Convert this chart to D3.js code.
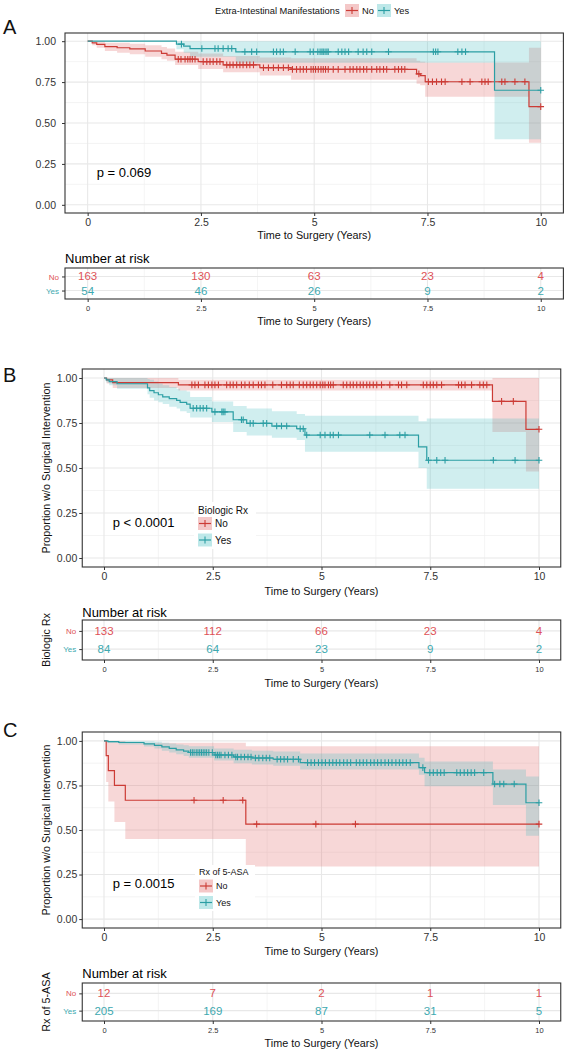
<!DOCTYPE html>
<html><head><meta charset="utf-8">
<script src="https://cdn.jsdelivr.net/npm/d3@7"></script>
<style>body{margin:0;background:#fff}svg{display:block}text{font-family:"Liberation Sans",Arial,sans-serif}</style>
</head><body>
<svg id="c" width="564" height="1050"></svg>
<script>
// ---------- shared ----------
const xTicks = [0, 2.5, 5, 7.5, 10];
const xTickLabels = ["0", "2.5", "5", "7.5", "10"];
const yTicks = [0, 0.25, 0.5, 0.75, 1];
const yTickLabels = ["0.00", "0.25", "0.50", "0.75", "1.00"];
const riskTimes = [0, 2.5, 5, 7.5, 10];
const groups = ["No", "Yes"];

// ---------- Panel A : Extra-Intestinal Manifestations ----------
const aNoTime  = [0, 0.1, 0.2, 0.38, 0.65, 0.93, 1.27, 1.63, 1.75, 1.93, 2.44, 2.99, 3.80, 4.49, 7.26, 7.34, 7.45, 9.74];
const aNoSurv  = [1, 0.99, 0.98, 0.967, 0.96, 0.953, 0.94, 0.925, 0.915, 0.89, 0.875, 0.855, 0.838, 0.828, 0.80, 0.79, 0.752, 0.60];
const aNoLower = [1, 0.975, 0.96, 0.94, 0.93, 0.92, 0.905, 0.89, 0.88, 0.855, 0.83, 0.81, 0.79, 0.765, 0.74, 0.73, 0.66, 0.38];
const aNoUpper = [1, 1, 1, 0.99, 0.99, 0.985, 0.975, 0.965, 0.955, 0.935, 0.925, 0.91, 0.90, 0.895, 0.88, 0.875, 0.87, 0.96];
const aNoCensor = [2.0, 2.06, 2.15, 2.21, 2.26, 2.31, 2.37, 2.55, 2.63, 2.70, 2.77, 2.85, 2.92, 3.07, 3.14, 3.21, 3.29, 3.36, 3.43, 3.51, 3.58, 3.66, 3.88, 3.99, 4.10, 4.21, 4.32, 4.43, 4.52, 4.61, 4.69, 4.76, 4.83, 4.93, 4.98, 5.03, 5.09, 5.15, 5.2, 5.25, 5.31, 5.42, 5.53, 5.68, 5.79, 5.86, 5.94, 6.01, 6.09, 6.16, 6.27, 6.38, 6.45, 6.53, 6.6, 6.78, 6.86, 6.93, 7.0, 7.31, 7.52, 7.61, 7.70, 7.81, 7.89, 8.26, 8.44, 8.70, 8.77, 8.84, 9.14, 9.21, 9.43, 9.65, 10];
const aYesTime  = [0, 1.96, 2.12, 2.26, 3.27, 8.98];
const aYesSurv  = [1, 0.982, 0.97, 0.955, 0.935, 0.70];
const aYesLower = [1, 0.95, 0.93, 0.905, 0.868, 0.40];
const aYesUpper = [1, 1, 1, 1, 1, 1];
const aYesCensor = [2.07, 2.52, 2.81, 2.88, 2.99, 3.10, 3.18, 3.47, 3.62, 3.73, 4.10, 4.17, 4.25, 4.32, 4.58, 4.91, 4.98, 5.08, 5.13, 5.17, 5.2, 5.24, 5.28, 5.31, 5.53, 5.61, 5.68, 5.76, 5.97, 6.08, 6.16, 6.27, 6.64, 7.63, 7.68, 7.73, 8.17, 8.26, 8.34, 10];
const aRiskNo  = [163, 130, 63, 23, 4];
const aRiskYes = [54, 46, 26, 9, 2];

// ---------- Panel B : Biologic Rx ----------
const bNoTime  = [0, 0.06, 0.2, 1.71, 8.93, 9.7];
const bNoSurv  = [1, 0.99, 0.974, 0.962, 0.87, 0.715];
const bNoLower = [1, 0.97, 0.945, 0.93, 0.70, 0.48];
const bNoUpper = [1, 1, 1, 0.99, 1, 1];
const bNoCensor = [2.02, 2.09, 2.17, 2.32, 2.40, 2.48, 2.55, 2.63, 2.82, 2.90, 2.97, 3.05, 3.16, 3.24, 3.34, 3.43, 3.55, 3.62, 3.70, 3.88, 4.08, 4.2, 4.28, 4.35, 4.49, 4.58, 4.66, 4.74, 4.81, 4.89, 4.97, 5.03, 5.08, 5.16, 5.21, 5.27, 5.50, 5.58, 5.66, 5.73, 5.81, 5.89, 5.96, 6.04, 6.11, 6.19, 6.27, 6.38, 6.57, 6.77, 6.84, 6.96, 7.34, 7.42, 7.50, 7.57, 7.65, 7.76, 8.15, 8.22, 8.30, 8.45, 8.64, 8.72, 8.80, 9.14, 9.41, 10];
const bYesTime  = [0, 0.05, 0.12, 0.3, 1.0, 1.05, 1.15, 1.25, 1.35, 1.5, 1.67, 1.75, 1.9, 1.98, 2.48, 2.97, 3.28, 3.86, 4.43, 4.62, 7.23, 7.42];
const bYesSurv  = [1, 0.99, 0.98, 0.968, 0.945, 0.93, 0.918, 0.907, 0.895, 0.885, 0.876, 0.865, 0.855, 0.832, 0.812, 0.768, 0.748, 0.733, 0.718, 0.683, 0.617, 0.543];
const bYesLower = [1, 0.975, 0.96, 0.94, 0.91, 0.89, 0.875, 0.865, 0.855, 0.84, 0.83, 0.815, 0.805, 0.78, 0.756, 0.70, 0.68, 0.668, 0.655, 0.59, 0.50, 0.385];
const bYesUpper = [1, 1, 1, 1, 0.995, 0.99, 0.98, 0.97, 0.96, 0.95, 0.94, 0.93, 0.925, 0.895, 0.87, 0.845, 0.83, 0.815, 0.80, 0.79, 0.76, 0.775];
const bYesCensor = [2.05, 2.13, 2.21, 2.28, 2.36, 2.55, 2.71, 2.74, 2.78, 3.16, 3.2, 3.36, 3.43, 3.66, 3.74, 3.97, 4.08, 4.2, 4.51, 4.58, 4.66, 4.97, 5.08, 5.20, 5.27, 5.39, 6.11, 6.46, 6.80, 6.92, 7.46, 7.65, 7.84, 8.95, 9.45, 10];
const bRiskNo  = [133, 112, 66, 23, 4];
const bRiskYes = [84, 64, 23, 9, 2];

// ---------- Panel C : Rx of 5-ASA ----------
const cNoTime  = [0, 0.05, 0.1, 0.24, 0.49, 3.26];
const cNoSurv  = [1, 0.917, 0.833, 0.75, 0.667, 0.533];
const cNoLower = [1, 0.77, 0.66, 0.545, 0.45, 0.295];
const cNoUpper = [1, 1, 1, 1, 0.99, 0.97];
const cNoCensor = [2.07, 2.74, 3.19, 3.51, 4.87, 5.78, 10];
const cYesTime  = [0, 0.09, 0.34, 0.92, 1.16, 1.33, 1.5, 1.66, 1.83, 1.95, 2.53, 2.98, 3.4, 3.89, 4.51, 7.24, 7.37, 8.94, 9.7];
const cYesSurv  = [1, 0.996, 0.991, 0.983, 0.975, 0.966, 0.958, 0.95, 0.943, 0.935, 0.921, 0.91, 0.904, 0.897, 0.878, 0.85, 0.822, 0.758, 0.653];
const cYesLower = [1, 0.988, 0.98, 0.968, 0.957, 0.945, 0.935, 0.925, 0.915, 0.905, 0.89, 0.875, 0.868, 0.86, 0.84, 0.81, 0.745, 0.64, 0.468];
const cYesUpper = [1, 1, 1, 0.998, 0.995, 0.99, 0.985, 0.98, 0.975, 0.97, 0.958, 0.95, 0.945, 0.94, 0.93, 0.905, 0.885, 0.84, 0.80];
const cYesCensor = [1.99, 2.03, 2.07, 2.12, 2.16, 2.20, 2.24, 2.28, 2.32, 2.36, 2.41, 2.49, 2.57, 2.61, 2.65, 2.69, 2.78, 2.86, 2.94, 3.03, 3.07, 3.15, 3.23, 3.31, 3.38, 3.48, 3.56, 3.65, 3.73, 3.81, 3.98, 4.06, 4.14, 4.22, 4.35, 4.47, 4.68, 4.76, 4.84, 4.93, 5.01, 5.09, 5.18, 5.26, 5.34, 5.42, 5.51, 5.59, 5.67, 5.80, 5.88, 5.96, 6.04, 6.13, 6.21, 6.29, 6.37, 6.46, 6.54, 6.62, 6.71, 6.79, 6.87, 6.95, 7.04, 7.33, 7.49, 7.57, 7.66, 7.74, 7.82, 8.11, 8.19, 8.28, 8.36, 8.44, 8.52, 8.73, 8.98, 9.10, 9.19, 9.43, 10];
const cRiskNo  = [12, 7, 2, 1, 1];
const cRiskYes = [205, 169, 87, 31, 5];

// ---------- styling ----------
const RED = "#cc3b35", TEAL = "#2b9ea4";
const RED_TXT = "#de5257", TEAL_TXT = "#3da9af";
const RED_FILL = "#e06060", TEAL_FILL = "#45bcc0", FILL_OP = 0.25;
const GRID = "#e8e8e8", GRID_MIN = "#efefef", BORDER = "#333";
const FONT = '"Liberation Sans",Arial,sans-serif';

const svg = d3.select("#c");
svg.append("rect").attr("width", 564).attr("height", 1050).attr("fill", "#fff");

function stepPts(time, surv, lower, upper, end) {
  const p = time.map((t, i) => ({t, s: surv[i], lo: lower[i], hi: upper[i]}));
  const last = p[p.length - 1];
  p.push({t: end, s: last.s, lo: last.lo, hi: last.hi});
  return p;
}

function cross(g, x, y, color) {
  g.append("path").attr("d", `M${x - 3.3},${y}h6.6M${x},${y - 3.3}v6.6`)
    .attr("stroke", color).attr("stroke-width", 1.1).attr("fill", "none");
}

function drawPanel(o) {
  const x = d3.scaleLinear().domain([-0.5, 10.5]).range([o.left, o.right]);
  const y = d3.scaleLinear().domain([-0.05, 1.05]).range([o.bottom, o.top]);
  const g = svg.append("g");

  // grid
  const xMinor = xTicks.slice(1).map((v, i) => (v + xTicks[i]) / 2);
  const yMinor = yTicks.slice(1).map((v, i) => (v + yTicks[i]) / 2);
  xMinor.forEach(v => g.append("line").attr("x1", x(v)).attr("x2", x(v)).attr("y1", o.top).attr("y2", o.bottom).attr("stroke", GRID_MIN).attr("stroke-width", 0.7));
  yMinor.forEach(v => g.append("line").attr("x1", o.left).attr("x2", o.right).attr("y1", y(v)).attr("y2", y(v)).attr("stroke", GRID_MIN).attr("stroke-width", 0.7));
  xTicks.forEach(v => g.append("line").attr("x1", x(v)).attr("x2", x(v)).attr("y1", o.top).attr("y2", o.bottom).attr("stroke", GRID).attr("stroke-width", 1.1));
  yTicks.forEach(v => g.append("line").attr("x1", o.left).attr("x2", o.right).attr("y1", y(v)).attr("y2", y(v)).attr("stroke", GRID).attr("stroke-width", 1.1));

  const curves = o.curves.map(c => ({...c, pts: stepPts(c.time, c.surv, c.lower, c.upper, d3.max(c.censor))}));
  const area = d3.area().curve(d3.curveStepAfter).x(d => x(d.t)).y0(d => y(d.lo)).y1(d => y(d.hi));
  const line = d3.line().curve(d3.curveStepAfter).x(d => x(d.t)).y(d => y(d.s));
  curves.forEach(c => g.append("path").datum(c.pts).attr("d", area).attr("fill", c.fill).attr("fill-opacity", FILL_OP));
  curves.forEach(c => g.append("path").datum(c.pts).attr("d", line).attr("fill", "none").attr("stroke", c.color).attr("stroke-width", 1.2));
  curves.forEach(c => {
    c.censor.forEach(t => {
      const s = c.surv[d3.bisectRight(c.time, t) - 1];
      cross(g, x(t), y(s), c.color);
    });
  });

  // legend inside
  if (o.legend) {
    const L = o.legend;
    g.append("rect").attr("x", L.x - 4).attr("y", L.y0).attr("width", L.w).attr("height", L.h).attr("fill", "#fff");
    g.append("text").attr("x", L.x).attr("y", L.titleY + L.fs * 0.35).attr("font-size", L.fs).attr("fill", "#111").text(L.title);
    groups.forEach((gr, i) => {
      const cy = L.keyY[i], c = curves[i];
      g.append("rect").attr("x", L.x).attr("y", cy - 6.5).attr("width", 14).attr("height", 13).attr("fill", c.fill).attr("fill-opacity", 0.35);
      g.append("line").attr("x1", L.x + 1).attr("x2", L.x + 13).attr("y1", cy).attr("y2", cy).attr("stroke", c.color).attr("stroke-width", 1.2);
      g.append("line").attr("x1", L.x + 7).attr("x2", L.x + 7).attr("y1", cy - 3.5).attr("y2", cy + 3.5).attr("stroke", c.color).attr("stroke-width", 1.1);
      g.append("text").attr("x", L.x + 17).attr("y", cy + L.fs * 0.35).attr("font-size", L.fs).attr("fill", "#111").text(gr);
    });
  }

  // p value
  g.append("text").attr("x", x(0.2)).attr("y", y(0.2) + 4.6).attr("font-size", 13).attr("fill", "#000").text(o.p);

  // border
  g.append("rect").attr("x", o.left).attr("y", o.top).attr("width", o.right - o.left).attr("height", o.bottom - o.top)
    .attr("fill", "none").attr("stroke", BORDER).attr("stroke-width", 1.1);

  // axes
  const ax = g.append("g").attr("transform", `translate(0,${o.bottom})`)
    .call(d3.axisBottom(x).tickValues(xTicks).tickFormat((d, i) => xTickLabels[i]).tickSize(3).tickPadding(3));
  const ay = g.append("g").attr("transform", `translate(${o.left},0)`)
    .call(d3.axisLeft(y).tickValues(yTicks).tickFormat((d, i) => yTickLabels[i]).tickSize(3).tickPadding(o.yPad));
  [ax, ay].forEach(a => {
    a.select(".domain").remove();
    a.selectAll(".tick line").attr("stroke", BORDER);
    a.selectAll("text").attr("font-size", 10.5).attr("fill", "#333").attr("font-family", FONT);
  });
  g.append("text").attr("x", (o.left + o.right) / 2).attr("y", o.xTitleY + 3.8).attr("text-anchor", "middle").attr("font-size", 10.8).attr("fill", "#111").text("Time to Surgery (Years)");
  if (o.yTitle) {
    g.append("text").attr("transform", `translate(${o.yTitleX + 3.8},${(o.top + o.bottom) / 2}) rotate(-90)`).attr("text-anchor", "middle").attr("font-size", 10.8).attr("fill", "#111").text(o.yTitle);
  }
  // panel letter
  g.append("text").attr("x", 3).attr("y", o.letterY + 7).attr("font-size", 20).attr("fill", "#111").text(o.letter);

  // ---------- risk table ----------
  const T = o.table;
  const ty = d3.scalePoint().domain(groups).range([T.top, T.bottom]).padding(0.6);
  g.append("text").attr("x", o.left).attr("y", T.titleY + 4.5).attr("font-size", 13).attr("fill", "#000").text("Number at risk");
  xMinor.forEach(v => g.append("line").attr("x1", x(v)).attr("x2", x(v)).attr("y1", T.top).attr("y2", T.bottom).attr("stroke", GRID_MIN).attr("stroke-width", 0.7));
  xTicks.forEach(v => g.append("line").attr("x1", x(v)).attr("x2", x(v)).attr("y1", T.top).attr("y2", T.bottom).attr("stroke", GRID).attr("stroke-width", 1.1));
  groups.forEach(gr => g.append("line").attr("x1", o.left).attr("x2", o.right).attr("y1", ty(gr)).attr("y2", ty(gr)).attr("stroke", GRID).attr("stroke-width", 1.1));
  const risks = [o.riskNo, o.riskYes], tcol = [RED_TXT, TEAL_TXT];
  groups.forEach((gr, i) => {
    riskTimes.forEach((t, j) => {
      g.append("text").attr("x", x(t)).attr("y", ty(gr) + 4).attr("text-anchor", "middle").attr("font-size", 11.5).attr("fill", tcol[i]).text(risks[i][j]);
    });
  });
  g.append("rect").attr("x", o.left).attr("y", T.top).attr("width", o.right - o.left).attr("height", T.bottom - T.top)
    .attr("fill", "none").attr("stroke", BORDER).attr("stroke-width", 1.1);
  const tax = g.append("g").attr("transform", `translate(0,${T.bottom})`)
    .call(d3.axisBottom(x).tickValues(xTicks).tickFormat((d, i) => xTickLabels[i]).tickSize(3).tickPadding(4));
  const tay = g.append("g").attr("transform", `translate(${o.left},0)`).call(d3.axisLeft(ty).tickSize(3).tickPadding(3));
  [tax, tay].forEach(a => { a.select(".domain").remove(); a.selectAll(".tick line").attr("stroke", BORDER); });
  tax.selectAll("text").attr("font-size", 7.5).attr("fill", "#333").attr("font-family", FONT);
  tay.selectAll("text").attr("font-size", 8).attr("font-family", FONT).attr("fill", (d, i) => tcol[i]);
  g.append("text").attr("x", (o.left + o.right) / 2).attr("y", T.xTitleY + 3.8).attr("text-anchor", "middle").attr("font-size", 10.8).attr("fill", "#111").text("Time to Surgery (Years)");
  if (T.yTitle) {
    g.append("text").attr("transform", `translate(${o.yTitleX + 3.8},${(T.top + T.bottom) / 2}) rotate(-90)`).attr("text-anchor", "middle").attr("font-size", 10.8).attr("fill", "#111").text(T.yTitle);
  }
  return {x, y, curves};
}

function curveSet(noT, noS, noL, noU, noC, yT, yS, yL, yU, yC) {
  return [
    {time: noT, surv: noS, lower: noL, upper: noU, censor: noC, color: RED, fill: RED_FILL},
    {time: yT, surv: yS, lower: yL, upper: yU, censor: yC, color: TEAL, fill: TEAL_FILL}
  ];
}

// Panel A
const pA = drawPanel({
  left: 65, right: 563.4, top: 33, bottom: 213, yPad: 6, xTitleY: 235, letter: "A", letterY: 27,
  p: "p = 0.069",
  curves: curveSet(aNoTime, aNoSurv, aNoLower, aNoUpper, aNoCensor, aYesTime, aYesSurv, aYesLower, aYesUpper, aYesCensor),
  riskNo: aRiskNo, riskYes: aRiskYes,
  table: {top: 268, bottom: 299, titleY: 258, xTitleY: 321}
});
// top legend for A
(function () {
  const g = svg.append("g");
  const fs = 9.3, cy = 10.5;
  g.append("text").attr("x", 215).attr("y", cy + fs * 0.35).attr("font-size", fs).attr("fill", "#111").text("Extra-Intestinal Manifestations");
  const keyX = [345, 377];
  groups.forEach((gr, i) => {
    const c = pA.curves[i], kx = keyX[i];
    g.append("rect").attr("x", kx).attr("y", cy - 6.5).attr("width", 14).attr("height", 13).attr("fill", c.fill).attr("fill-opacity", 0.35);
    g.append("line").attr("x1", kx + 1).attr("x2", kx + 13).attr("y1", cy).attr("y2", cy).attr("stroke", c.color).attr("stroke-width", 1.2);
    g.append("line").attr("x1", kx + 7).attr("x2", kx + 7).attr("y1", cy - 3.5).attr("y2", cy + 3.5).attr("stroke", c.color).attr("stroke-width", 1.1);
    g.append("text").attr("x", kx + 17).attr("y", cy + fs * 0.35).attr("font-size", fs).attr("fill", "#111").text(gr);
  });
})();

// Panel B
drawPanel({
  left: 82.25, right: 560.75, top: 369, bottom: 567, yPad: 2, xTitleY: 591, letter: "B", letterY: 375,
  yTitle: "Proportion w/o Surgical Intervention", yTitleX: 46,
  p: "p < 0.0001",
  curves: curveSet(bNoTime, bNoSurv, bNoLower, bNoUpper, bNoCensor, bYesTime, bYesSurv, bYesLower, bYesUpper, bYesCensor),
  legend: {title: "Biologic Rx", x: 198, y0: 502, w: 62, h: 47, titleY: 510, keyY: [523.5, 540], fs: 10},
  riskNo: bRiskNo, riskYes: bRiskYes,
  table: {top: 620, bottom: 660, titleY: 612, xTitleY: 683, yTitle: "Biologic Rx"}
});

// Panel C
drawPanel({
  left: 82.25, right: 560.75, top: 732, bottom: 928, yPad: 2, xTitleY: 951, letter: "C", letterY: 730,
  yTitle: "Proportion w/o Surgical Intervention", yTitleX: 46,
  p: "p = 0.0015",
  curves: curveSet(cNoTime, cNoSurv, cNoLower, cNoUpper, cNoCensor, cYesTime, cYesSurv, cYesLower, cYesUpper, cYesCensor),
  legend: {title: "Rx of 5-ASA", x: 199, y0: 865, w: 60, h: 46, titleY: 872, keyY: [886, 902.5], fs: 9},
  riskNo: cRiskNo, riskYes: cRiskYes,
  table: {top: 983, bottom: 1021, titleY: 973, xTitleY: 1043, yTitle: "Rx of 5-ASA"}
});
</script>
</body></html>
